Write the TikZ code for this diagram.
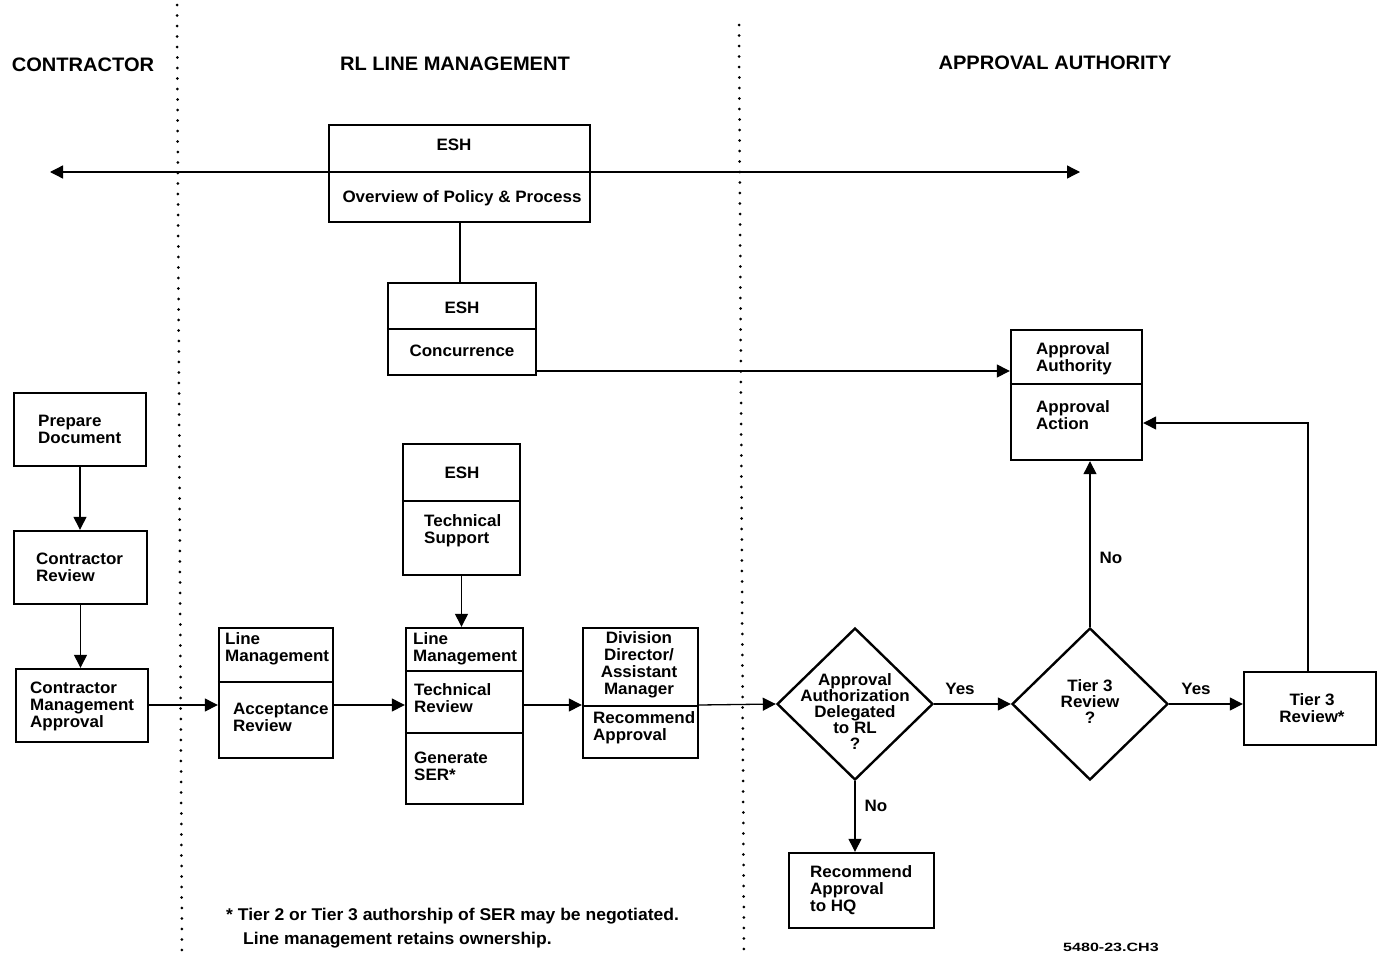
\documentclass[tikz,border=0pt]{standalone}
\usepackage{fontspec}
\setmainfont{Liberation Sans}[FakeStretch=1.03]
\usetikzlibrary{arrows.meta,shapes.geometric}

\tikzset{
  frame/.style={draw, line width=2.4pt, inner sep=0pt},
  divline/.style={line width=1.3pt},
  txt/.style={font=\fontsize{16.5}{17}\selectfont\bfseries, inner sep=0pt, align=left},
  ctxt/.style={txt, align=center},
  hdr/.style={font=\fontsize{19.5}{21}\selectfont\bfseries, inner sep=0pt},
  conn/.style={line width=1.3pt, -{Triangle[length=13pt,width=13pt]}},
  both/.style={line width=1.3pt, {Triangle[length=13pt,width=13pt]}-{Triangle[length=13pt,width=13pt]}},
  plain/.style={line width=1.3pt},
  lane/.style={line width=3pt, line cap=round, dash pattern=on 0pt off 10.5pt},
  decision/.style={draw, shape=diamond, line width=2.4pt, inner sep=0pt, minimum width=156pt, minimum height=152pt}
}

\begin{document}
\begin{tikzpicture}[x=1pt,y=-1pt]
\useasboundingbox (0,0) rectangle (1386,953);

% swimlane separators
\coordinate (v1t) at (177,5);   \coordinate (v1b) at (182,953);
\coordinate (v2t) at (739,25);  \coordinate (v2b) at (744,953);
\draw[lane] (v1t) -- (v1b);
\draw[lane] (v2t) -- (v2b);

% lane headings
\node[hdr] (hc) at (83,65) {CONTRACTOR};
\node[hdr] (hr) at (455,64) {RL LINE MANAGEMENT};
\node[hdr] (ha) at (1055,63) {APPROVAL AUTHORITY};

% ESH overview spanning all lanes
\coordinate (la) at (50,172);
\coordinate (ra) at (1080,172);
\node[frame, fill=white, minimum width=261pt, minimum height=97pt] (esh1) at (459.5,173.5) {};
\draw[both] (la) -- (ra);
\node[ctxt] (esh1a) at (454,145) {ESH};
\node[ctxt] (esh1b) at (462,198) {Overview of Policy \& Process};

% ESH concurrence
\node[frame, minimum width=148pt, minimum height=92pt] (esh2) at (462,329) {};
\draw[divline] (esh2.west |- 0,329) -- (esh2.east |- 0,329);
\node[ctxt] (esh2a) at (462,308) {ESH};
\node[ctxt] (esh2b) at (462,351) {Concurrence};
\draw[plain] (esh1.south -| 460,0) -- (esh2.north -| 460,0);

% approval authority
\node[frame, minimum width=131pt, minimum height=130pt] (auth) at (1076.5,395) {};
\draw[divline] (auth.west |- 0,384) -- (auth.east |- 0,384);
\node[txt, anchor=west] (autha) at (1036,358.5) {Approval\\Authority};
\node[txt, anchor=west] (authb) at (1036,415.5) {Approval\\Action};
\draw[conn] (esh2.east |- 0,371) -- (auth.west |- 0,371);

% contractor lane
\node[frame, minimum width=132pt, minimum height=73pt] (prep) at (80,429.5) {};
\node[txt, anchor=west] (prept) at (38,429.5) {Prepare\\Document};
\node[frame, minimum width=133pt, minimum height=73pt] (crev) at (80.5,567.5) {};
\node[txt, anchor=west] (crevt) at (36,567.5) {Contractor\\Review};
\node[frame, minimum width=132pt, minimum height=73pt] (cma) at (82,705.5) {};
\node[txt, anchor=west] (cmat) at (30,706) {Contractor\\Management\\Approval};
\draw[conn] (prep.south) -- (prep.south |- crev.north);
\draw[conn] (crev.south) -- (crev.south |- cma.north);

% RL line management lane
\node[frame, minimum width=114pt, minimum height=130pt] (lm1) at (276,693) {};
\draw[divline] (lm1.west |- 0,682) -- (lm1.east |- 0,682);
\node[txt, anchor=west] (lm1a) at (225,648.5) {Line\\Management};
\node[txt, anchor=west] (lm1b) at (233,717.5) {Acceptance\\Review};

\node[frame, minimum width=117pt, minimum height=131pt] (tech) at (461.5,509.5) {};
\draw[divline] (tech.west |- 0,501) -- (tech.east |- 0,501);
\node[ctxt] (techa) at (462,473) {ESH};
\node[txt, anchor=west] (techb) at (424,530.5) {Technical\\Support};

\node[frame, minimum width=117pt, minimum height=176pt] (lm2) at (464.5,716) {};
\draw[divline] (lm2.west |- 0,671) -- (lm2.east |- 0,671);
\draw[divline] (lm2.west |- 0,733) -- (lm2.east |- 0,733);
\node[txt, anchor=west] (lm2a) at (413,648.5) {Line\\Management};
\node[txt, anchor=west] (lm2b) at (414,698.5) {Technical\\Review};
\node[txt, anchor=west] (lm2c) at (414,766.5) {Generate\\SER*};

\node[frame, minimum width=115pt, minimum height=130pt] (div) at (640.5,693) {};
\draw[divline] (div.west |- 0,706) -- (div.east |- 0,706);
\node[ctxt] (diva) at (639,664.5) {Division\\Director/\\Assistant\\Manager};
\node[txt, anchor=west] (divb) at (593,728) {Recommend\\Approval};

\draw[conn] (tech.south) -- (tech.south |- lm2.north);
\draw[conn] (cma.east |- 0,705) -- (lm1.west |- 0,705);
\draw[conn] (lm1.east |- 0,705) -- (lm2.west |- 0,705);
\draw[conn] (lm2.east |- 0,705) -- (div.west |- 0,705);

% decisions
\node[decision] (d1) at (855,704) {};
\node[ctxt, font=\fontsize{16.5}{16}\selectfont\bfseries] (d1t) at (855,712) {Approval\\Authorization\\Delegated\\to RL\\?};
\node[decision] (d2) at (1090,704) {};
\node[ctxt, font=\fontsize{16.5}{16}\selectfont\bfseries] (d2t) at (1090,702) {Tier 3\\Review\\?};

\node[frame, minimum width=132pt, minimum height=73pt] (t3) at (1310,708.5) {};
\node[ctxt] (t3t) at (1312,708) {Tier 3\\Review*};

\node[frame, minimum width=145pt, minimum height=75pt] (hq) at (861.5,890.5) {};
\node[txt, anchor=west] (hqt) at (810,890) {Recommend\\Approval\\to HQ};

\draw[conn] (div.east |- 0,705) -- (d1.west);
\draw[conn] (d1.east) -- (d2.west);
\draw[conn] (d2.east) -- (d2.east -| t3.west);
\draw[conn] (d1.south) -- (d1.south |- hq.north);
\draw[conn] (d2.north) -- (d2.north |- auth.south);
\draw[conn] (t3.north -| 1308,0) |- (auth.east |- 0,423);

\node[txt] (y1) at (960,689) {Yes};
\node[txt] (y2) at (1196,689) {Yes};
\node[txt] (n1) at (876,806) {No};
\node[txt] (n2) at (1111,558) {No};

% footnote and drawing number
\node[txt, anchor=west, font=\fontsize{17}{17}\selectfont\bfseries] (fn1) at (226,916) {* Tier 2 or Tier 3 authorship of SER may be negotiated.};
\node[txt, anchor=west, font=\fontsize{17}{17}\selectfont\bfseries] (fn2) at (243,940) {Line management retains ownership.};
\node[txt, font=\fontsize{12}{12}\selectfont\bfseries] (code) at (1111,947) {\scalebox{1.3}[1]{5480-23.CH3}};
\end{tikzpicture}
\end{document}
